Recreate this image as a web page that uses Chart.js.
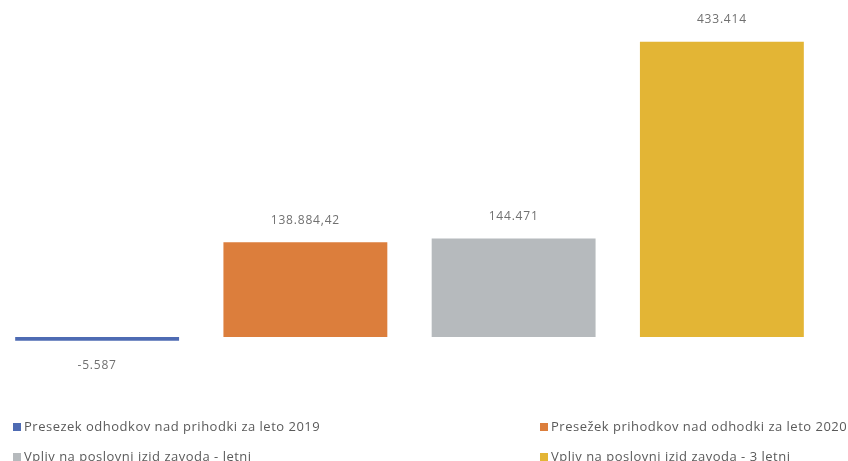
<!DOCTYPE html>
<html>
<head>
<meta charset="utf-8">
<script src="https://cdn.jsdelivr.net/npm/chart.js@4/dist/chart.umd.min.js"></script>
<style>
  html, body { margin: 0; padding: 0; background: #ffffff; }
  #wrap { position: relative; width: 848px; height: 461px; overflow: hidden; }
  #c { position: absolute; left: -7px; top: 0; }
  .lg { position: absolute; font-family: "Open Sans", sans-serif; font-size: 13px; letter-spacing: 0.5px; color: #5a5a5a; white-space: nowrap; line-height: 14px; }
  .lg i { display: inline-block; width: 8px; height: 8px; margin-right: 3px; vertical-align: 0px; }
</style>
</head>
<body>
<div id="wrap">
  <canvas id="c" width="855" height="461"></canvas>
  <div id="legend"></div>
</div>
<script>
const seriesNames = [
  "Presezek odhodkov nad prihodki za leto 2019",
  "Presežek prihodkov nad odhodki za leto 2020",
  "Vpliv na poslovni izid zavoda - letni",
  "Vpliv na poslovni izid zavoda - 3 letni"
];
const seriesValues = [-5587, 138884.42, 144471, 433414];
const seriesColors = ["#4e6bb3", "#dc7e3c", "#b6babd", "#e3b535"];
const categories = ["", "", "", ""];

const fmt = new Intl.NumberFormat('de-DE', { maximumFractionDigits: 2 });

const datasets = seriesNames.map((name, i) => ({
  label: name,
  data: seriesValues.map((v, j) => (j === i ? v : null)),
  backgroundColor: seriesColors[i],
  borderWidth: 0,
  grouped: false,
  categoryPercentage: 1,
  barPercentage: 0.787
}));

const valueLabels = {
  id: 'valueLabels',
  afterDatasetsDraw(chart) {
    const ctx = chart.ctx;
    ctx.save();
    ctx.font = '12px "Open Sans", sans-serif';
    try { ctx.letterSpacing = '0.8px'; } catch (e) {}
    ctx.fillStyle = '#707070';
    ctx.textAlign = 'center';
    ctx.textBaseline = 'middle';
    chart.data.datasets.forEach((ds, i) => {
      const meta = chart.getDatasetMeta(i);
      const el = meta.data[i];
      const v = ds.data[i];
      if (!el || v == null) return;
      const y = v >= 0 ? el.y - 22 : el.y + 25;
      ctx.fillText(fmt.format(v), el.x, y);
    });
    ctx.restore();
  }
};

new Chart(document.getElementById('c'), {
  type: 'bar',
  data: { labels: categories, datasets },
  options: {
    responsive: false,
    animation: false,
    layout: { padding: { left: 0, right: 22, top: 10, bottom: 56 } },
    plugins: { legend: { display: false }, tooltip: { enabled: false } },
    scales: {
      x: { display: false, grid: { display: false } },
      y: { display: false, min: -100000, max: 480000, grid: { display: false } }
    }
  },
  plugins: [valueLabels]
});

const legendPos = [[13, 419], [540, 419], [13, 449], [540, 449]];
const lg = document.getElementById('legend');
seriesNames.forEach((name, i) => {
  const d = document.createElement('div');
  d.className = 'lg';
  d.style.left = legendPos[i][0] + 'px';
  d.style.top = legendPos[i][1] + 'px';
  const sq = document.createElement('i');
  sq.style.background = seriesColors[i];
  d.appendChild(sq);
  d.appendChild(document.createTextNode(name));
  lg.appendChild(d);
});
</script>
</body>
</html>
